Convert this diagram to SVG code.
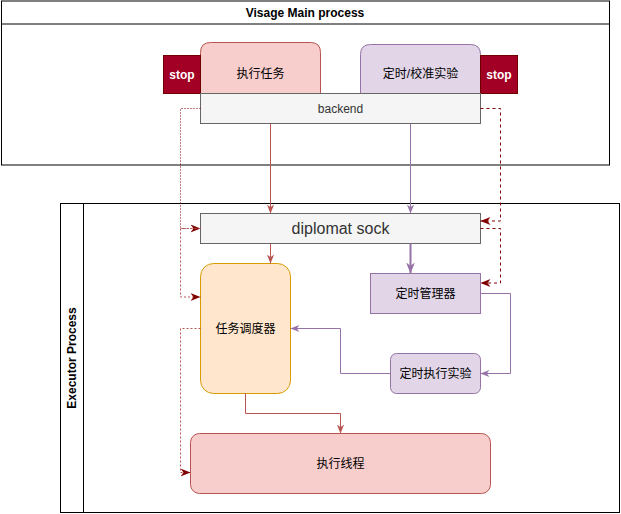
<svg xmlns="http://www.w3.org/2000/svg" width="621" height="514" viewBox="0 0 621 514">
<style>
text{font-family:"Liberation Sans","Noto Sans CJK SC",Arial,sans-serif;font-size:12px;text-anchor:middle;dominant-baseline:central;fill:#000}
.pool{fill:none;stroke:#000;stroke-width:1}
.hdr{font-weight:bold}
.red{fill:#f8cecc;stroke:#b85450}
.pur{fill:#e1d5e7;stroke:#9673a6}
.org{fill:#ffe6cc;stroke:#d79b00}
.gry{fill:#f5f5f5;stroke:#666666}
.stop{fill:#a20025;stroke:#6f0000}
.stoptxt{fill:#fff;font-weight:bold}
.gtxt{fill:#333333}
.e{fill:none}
.er{stroke:#b85450}
.ep{stroke:#9673a6}
.ed{stroke:#800000}
</style>
<defs>
<marker id="ar" viewBox="0 0 10 10" refX="10" refY="5" markerWidth="9" markerHeight="9" markerUnits="userSpaceOnUse" orient="auto"><path d="M0,1 L10,5 L0,9 L3,5 Z" fill="#b85450"/></marker>
<marker id="ap" viewBox="0 0 10 10" refX="10" refY="5" markerWidth="9" markerHeight="9" markerUnits="userSpaceOnUse" orient="auto"><path d="M0,1 L10,5 L0,9 L3,5 Z" fill="#9673a6"/></marker>
<marker id="ap2" viewBox="0 0 10 10" refX="10" refY="5" markerWidth="11" markerHeight="11" markerUnits="userSpaceOnUse" orient="auto"><path d="M0,1 L10,5 L0,9 L3,5 Z" fill="#9673a6"/></marker>
<marker id="ad" viewBox="0 0 10 10" refX="10" refY="5" markerWidth="10" markerHeight="10" markerUnits="userSpaceOnUse" orient="auto"><path d="M0,1 L10,5 L0,9 L3,5 Z" fill="#800000"/></marker>
</defs>

<g id="pool-main">
<rect class="pool" x="1.5" y="1" width="608" height="164"/>
<line class="pool" x1="1.5" y1="24" x2="609.5" y2="24"/>
<text class="hdr" x="305" y="13">Visage Main process</text>
</g>

<g id="pool-executor">
<rect class="pool" x="60.5" y="203.5" width="559" height="309"/>
<line class="pool" x1="83.5" y1="203.5" x2="83.5" y2="512.5"/>
<text class="hdr" transform="translate(72,358) rotate(-90)" x="0" y="0">Executor Process</text>
</g>

<g id="node-exec-task">
<path class="red" d="M200.5,123.5 V52.5 Q200.5,42.5 210.5,42.5 H310.5 Q320.5,42.5 320.5,52.5 V123.5 Z"/>
<text x="260.5" y="74">执行任务</text>
</g>

<g id="node-timer-exp">
<path class="pur" d="M360.5,123.5 V54.5 Q360.5,44.5 370.5,44.5 H470.5 Q480.5,44.5 480.5,54.5 V123.5 Z"/>
<text x="420.5" y="74">定时/校准实验</text>
</g>

<g id="node-stop-left">
<rect class="stop" x="163.5" y="55.5" width="37" height="38"/>
<text class="stoptxt" x="182" y="75">stop</text>
</g>

<g id="node-stop-right">
<rect class="stop" x="480.5" y="55.5" width="37" height="38"/>
<text class="stoptxt" x="499" y="75">stop</text>
</g>

<g id="node-backend">
<rect class="gry" x="200.5" y="93.5" width="280" height="30"/>
<text class="gtxt" x="340.5" y="108.5">backend</text>
</g>

<g id="node-diplomat">
<rect class="gry" x="200.5" y="213.5" width="280" height="30"/>
<text class="gtxt" x="340.5" y="228.5" style="font-size:16px">diplomat sock</text>
</g>

<g id="node-scheduler">
<rect class="org" x="200.5" y="263.5" width="90" height="130" rx="13" ry="13"/>
<text x="245.5" y="328.5">任务调度器</text>
</g>

<g id="node-timer-mgr">
<rect class="pur" x="370.5" y="273.5" width="110" height="40"/>
<text x="425.5" y="293.5">定时管理器</text>
</g>

<g id="node-timer-run">
<rect class="pur" x="390.5" y="353.5" width="90" height="40" rx="6" ry="6"/>
<text x="435.5" y="373.5">定时执行实验</text>
</g>

<g id="node-exec-thread">
<rect class="red" x="190.5" y="433.5" width="300" height="60" rx="9" ry="9"/>
<text x="340.5" y="463.5">执行线程</text>
</g>

<g id="connectors">
<path class="e er" d="M270.5,123.5 V213.5" marker-end="url(#ar)"/>
<path class="e ep" d="M410.5,123.5 V213.5" marker-end="url(#ap)"/>
<path class="e er" d="M270.5,243.5 V263.5" marker-end="url(#ar)"/>
<path class="e ep" d="M410.5,243.5 V273.5" stroke-width="2" marker-end="url(#ap2)"/>
<path class="e ep" d="M480.5,293.5 H510.5 V373.5 H480.5" marker-end="url(#ap)"/>
<path class="e ep" d="M390.5,373.5 H340.5 V328.5 H290.5" marker-end="url(#ap)"/>
<path class="e er" d="M245.5,393.5 V413.5 H340.5 V433.5" marker-end="url(#ar)"/>
<path class="e ed" d="M200.5,108.5 H180.5 V228.5 H200.5" stroke-dasharray="1 2" marker-end="url(#ad)"/>
<path class="e er" d="M200.5,228.5 H180.5 V297 H200.5" stroke-dasharray="2 2" marker-end="url(#ad)"/>
<path class="e er" d="M200.5,328.5 H180.5 V472.5 H190.5" stroke-dasharray="2 2" marker-end="url(#ad)"/>
<path class="e ed" d="M480.5,108.5 H500.5 V221 H480.5" stroke-dasharray="3 3" marker-end="url(#ad)"/>
<path class="e ed" d="M480.5,228.5 H500.5 V283 H480.5" stroke-dasharray="3 3" marker-end="url(#ad)"/>
</g>
</svg>
